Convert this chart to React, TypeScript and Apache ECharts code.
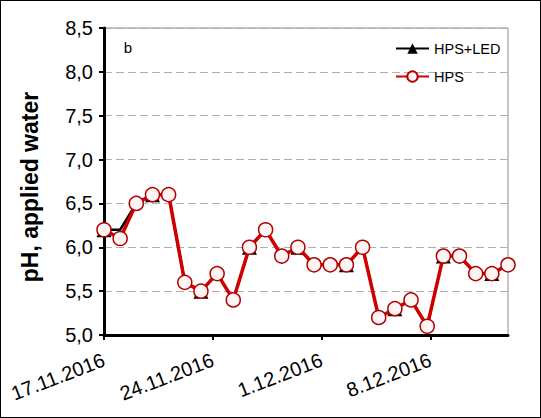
import React, { useEffect, useRef } from "react";
import * as echarts from "echarts";

const categories = [
  "17.11", "18.11", "19.11", "20.11", "21.11", "22.11", "23.11", "24.11", "25.11",
  "26.11", "27.11", "28.11", "29.11", "30.11", "1.12", "2.12", "3.12", "4.12",
  "5.12", "6.12", "7.12", "8.12", "9.12", "10.12", "11.12", "12.12",
];
const hps = [6.2, 6.1, 6.5, 6.6, 6.6, 5.6, 5.5, 5.7, 5.4, 6.0, 6.2, 5.9, 6.0, 5.8, 5.8, 5.8, 6.0, 5.2, 5.3, 5.4, 5.1, 5.9, 5.9, 5.7, 5.7, 5.8];
const hpsLed = [6.2, 6.2, 6.5, 6.6, 6.6, 5.6, 5.5, 5.7, 5.4, 6.0, 6.2, 5.9, 6.0, 5.8, 5.8, 5.8, 6.0, 5.2, 5.3, 5.4, 5.1, 5.9, 5.9, 5.7, 5.7, 5.8];
const dateTickDays = [0, 7, 14, 21];
const dateTickLabels = ["17.11.2016", "24.11.2016", "1.12.2016", "8.12.2016"];
const axisSpanDays = 26;

const FONT = "'Liberation Sans', Arial, sans-serif";

export default function App() {
  const ref = useRef<HTMLDivElement>(null);
  useEffect(() => {
    if (!ref.current) return;
    const chart = echarts.init(ref.current, null, { renderer: "svg" });
    chart.setOption({
      animation: false,
      backgroundColor: "#fff",
      textStyle: { fontFamily: FONT },
      grid: {
        left: 103,
        right: 32,
        top: 27,
        bottom: 82,
        show: true,
        borderColor: "#8c8c8c",
        borderWidth: 1,
      },
      legend: {
        orient: "vertical",
        left: 389,
        top: 35,
        itemWidth: 33,
        itemHeight: 13,
        itemGap: 13,
        textStyle: { fontSize: 14.5, color: "#000", fontFamily: FONT },
        data: ["HPS+LED", "HPS"],
      },
      xAxis: [
        {
          type: "category",
          data: categories,
          boundaryGap: false,
          show: false,
        },
        {
          type: "value",
          min: 0,
          max: axisSpanDays,
          interval: 7,
          position: "bottom",
          axisLine: { show: true, lineStyle: { color: "#000", width: 3 } },
          axisTick: {
            show: true,
            length: 5,
            lineStyle: { color: "#000", width: 2 },
            customValues: dateTickDays,
          },
          axisLabel: {
            rotate: 21,
            margin: 24,
            fontSize: 20,
            color: "#000",
            fontFamily: FONT,
            customValues: dateTickDays,
            formatter: (v: number) => {
              const i = dateTickDays.indexOf(Math.round(v));
              return i >= 0 ? dateTickLabels[i] : "";
            },
          },
          splitLine: { show: false },
        },
      ],
      yAxis: {
        type: "value",
        min: 5,
        max: 8.5,
        interval: 0.5,
        axisLine: { show: true, lineStyle: { color: "#000", width: 3 } },
        axisTick: { show: true, length: 5, lineStyle: { color: "#000", width: 2 } },
        axisLabel: {
          fontSize: 20,
          color: "#000",
          margin: 11,
          fontFamily: FONT,
          formatter: (v: number) => v.toFixed(1).replace(".", ","),
        },
        splitLine: { show: true, lineStyle: { color: "#b0b0b0", type: [8, 4], width: 1 } },
      },
      graphic: [
        {
          type: "text",
          x: 29,
          y: 186,
          rotation: Math.PI / 2,
          style: {
            text: "pH, applied water",
            fontSize: 23,
            fontWeight: "bold",
            fill: "#000",
            fontFamily: FONT,
            textAlign: "center",
            textVerticalAlign: "middle",
          },
        },
        {
          type: "text",
          x: 127,
          y: 46,
          style: {
            text: "b",
            fontSize: 15,
            fill: "#000",
            fontFamily: FONT,
            textAlign: "center",
            textVerticalAlign: "middle",
          },
        },
      ],
      series: [
        {
          name: "HPS+LED",
          type: "line",
          xAxisIndex: 0,
          data: hpsLed,
          symbol: "triangle",
          symbolSize: 15,
          itemStyle: { color: "#000" },
          lineStyle: { color: "#000", width: 2.5 },
          z: 2,
        },
        {
          name: "HPS",
          type: "line",
          xAxisIndex: 0,
          data: hps,
          symbol: "circle",
          symbolSize: 14,
          showAllSymbol: true,
          itemStyle: { color: "#fff5f5", borderColor: "#b00000", borderWidth: 1.5 },
          lineStyle: { color: "#d00000", width: 3.5 },
          z: 3,
        },
      ],
    });
    return () => chart.dispose();
  }, []);
  return (
    <div
      style={{
        position: "absolute",
        left: 0,
        top: 0,
        width: 541,
        height: 418,
        border: "1px solid #000",
        boxSizing: "border-box",
        background: "#fff",
      }}
    >
      <div ref={ref} style={{ width: 539, height: 416 }} />
    </div>
  );
}
